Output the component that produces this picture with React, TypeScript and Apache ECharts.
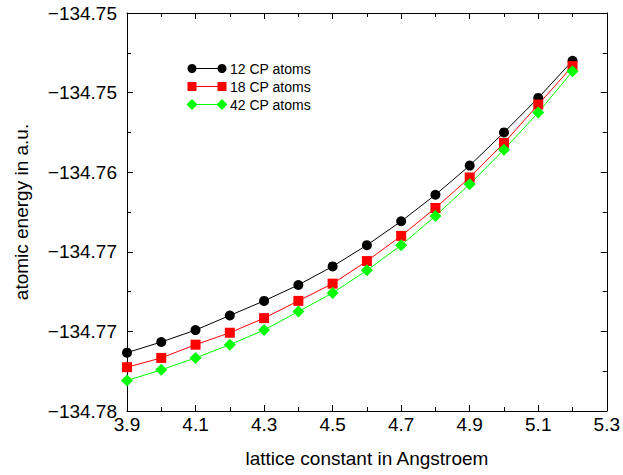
import React, { useEffect, useRef } from "react";
import * as echarts from "echarts";

const latticeConstants = [3.9, 4.0, 4.1, 4.2, 4.3, 4.4, 4.5, 4.6, 4.7, 4.8, 4.9, 5.0, 5.1, 5.2];
const energy12 = [-134.7736, -134.7728, -134.7719, -134.7708, -134.7697, -134.7685, -134.7671, -134.7655, -134.7637, -134.7617, -134.7595, -134.7570, -134.7544, -134.7516];
const energy18 = [-134.7747, -134.7740, -134.7730, -134.7721, -134.7710, -134.7697, -134.7684, -134.7667, -134.7648, -134.7627, -134.7604, -134.7578, -134.7549, -134.7520];
const energy42 = [-134.7757, -134.7749, -134.7740, -134.7730, -134.7719, -134.7705, -134.7691, -134.7674, -134.7655, -134.7633, -134.7609, -134.7583, -134.7555, -134.7524];
const seriesNames = ["12 CP atoms", "18 CP atoms", "42 CP atoms"];

const FONT = "Liberation Sans";

export default function App() {
  const ref = useRef<HTMLDivElement>(null);
  useEffect(() => {
    if (!ref.current) return;
    const chart = echarts.init(ref.current, null, { renderer: "svg" });
    const colors = ["#000000", "#ff0000", "#00ff00"];
    const symbols = ["circle", "rect", "diamond"];
    const sizes = [10, 10, 12];
    const datasets = [energy12, energy18, energy42];

    const axisCommon = {
      axisLine: { show: true, onZero: false, lineStyle: { color: "#000", width: 1 } },
      splitLine: { show: false },
    };

    const legendGraphics: any[] = [];
    seriesNames.forEach((name, i) => {
      const y = 68.5 + i * 18;
      const x1 = 192;
      const x2 = 222;
      legendGraphics.push({
        type: "line",
        shape: { x1, y1: y, x2, y2: y },
        style: { stroke: colors[i], lineWidth: 1 },
      });
      [x1, x2].forEach((x) => {
        if (i === 0) {
          legendGraphics.push({ type: "circle", shape: { cx: x, cy: y, r: 4.5 }, style: { fill: colors[i] } });
        } else if (i === 1) {
          legendGraphics.push({ type: "rect", shape: { x: x - 4.5, y: y - 4.5, width: 9, height: 9 }, style: { fill: colors[i] } });
        } else {
          legendGraphics.push({
            type: "polygon",
            shape: { points: [[x, y - 5.5], [x + 5.5, y], [x, y + 5.5], [x - 5.5, y]] },
            style: { fill: colors[i] },
          });
        }
      });
      legendGraphics.push({
        type: "text",
        x: 230,
        y,
        style: { text: name, fontSize: 14, fontFamily: FONT, fill: "#000", verticalAlign: "middle", align: "left" },
      });
    });

    chart.setOption({
      animation: false,
      backgroundColor: "#fff",
      grid: { left: 127, right: 14, top: 13, bottom: 64 },
      xAxis: [
        {
          type: "value",
          min: 3.9,
          max: 5.3,
          interval: 0.2,
          position: "bottom",
          ...axisCommon,
          axisTick: { show: true, inside: true, length: 6, lineStyle: { color: "#000" } },
          minorTick: { show: true, splitNumber: 2, length: 4, lineStyle: { color: "#000" } },
          axisLabel: {
            show: true,
            fontSize: 19,
            fontFamily: FONT,
            color: "#000",
            margin: 4,
            formatter: (v: number) => v.toFixed(1),
          },
          name: "lattice constant in Angstroem",
          nameLocation: "middle",
          nameGap: 38,
          nameTextStyle: { fontSize: 19, fontFamily: FONT, color: "#000" },
        },
        {
          type: "value",
          min: 3.9,
          max: 5.3,
          interval: 0.2,
          position: "top",
          ...axisCommon,
          axisTick: { show: true, inside: true, length: 6, lineStyle: { color: "#000" } },
          minorTick: { show: true, splitNumber: 2, length: 4, lineStyle: { color: "#000" } },
          axisLabel: { show: false },
        },
      ],
      yAxis: [
        {
          type: "value",
          min: -134.778,
          max: -134.748,
          interval: 0.006,
          position: "left",
          ...axisCommon,
          axisTick: { show: true, inside: true, length: 6, lineStyle: { color: "#000" } },
          minorTick: { show: true, splitNumber: 2, length: 4, lineStyle: { color: "#000" } },
          axisLabel: {
            show: true,
            fontSize: 19,
            fontFamily: FONT,
            color: "#000",
            margin: 10,
            formatter: (v: number) => v.toFixed(2).replace("-", "\u2212"),
          },
          name: "atomic energy in a.u.",
          nameLocation: "middle",
          nameGap: 96,
          nameRotate: 90,
          nameTextStyle: { fontSize: 19, fontFamily: FONT, color: "#000" },
        },
        {
          type: "value",
          min: -134.778,
          max: -134.748,
          interval: 0.006,
          position: "right",
          ...axisCommon,
          axisTick: { show: true, inside: true, length: 6, lineStyle: { color: "#000" } },
          minorTick: { show: true, splitNumber: 2, length: 4, lineStyle: { color: "#000" } },
          axisLabel: { show: false },
        },
      ],
      series: datasets.map((d, i) => ({
        name: seriesNames[i],
        type: "line",
        xAxisIndex: 0,
        yAxisIndex: 0,
        data: latticeConstants.map((x, j) => [x, d[j]]),
        symbol: symbols[i],
        symbolSize: sizes[i],
        showAllSymbol: true,
        lineStyle: { color: colors[i], width: 1 },
        itemStyle: { color: colors[i] },
      })),
      graphic: legendGraphics,
    });
    return () => chart.dispose();
  }, []);
  return <div ref={ref} style={{ width: 623, height: 475, position: "absolute", left: 0, top: 0 }} />;
}
